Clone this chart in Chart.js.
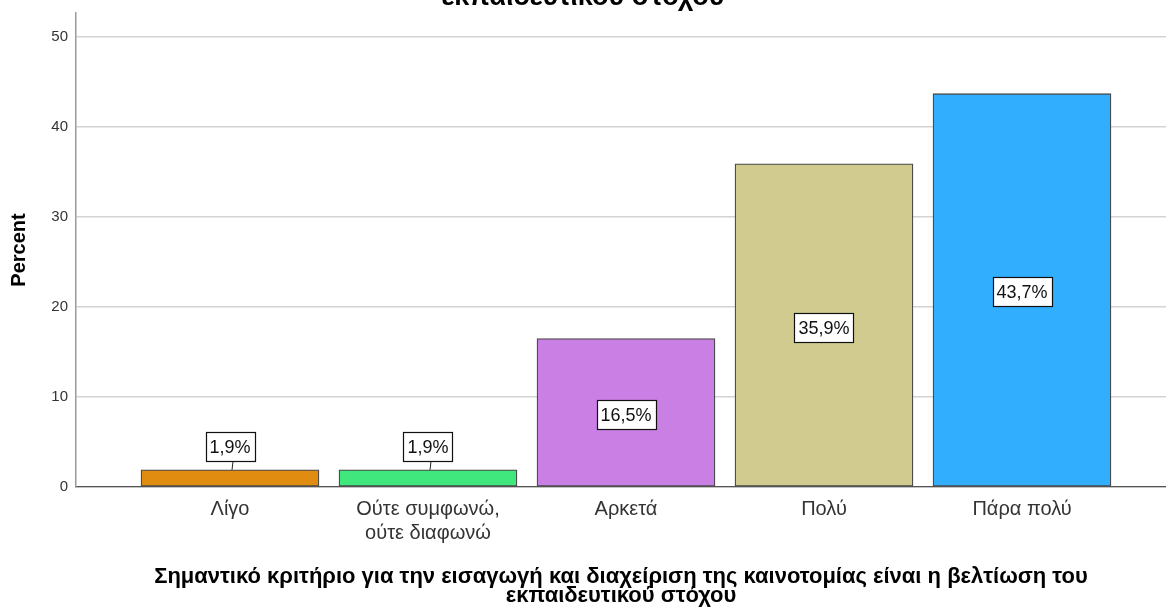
<!DOCTYPE html>
<html lang="el">
<head>
<meta charset="utf-8">
<title>Percent</title>
<script src="https://cdn.jsdelivr.net/npm/chart.js@4.4.1/dist/chart.umd.min.js"></script>
<style>
  html, body { margin: 0; padding: 0; background: #ffffff; }
  #wrap { width: 1166px; height: 610px; position: relative; }
</style>
</head>
<body>
<div id="wrap"><canvas id="chart" width="1166" height="610"></canvas></div>
<script>
// Response categories (x axis tick labels; multi-line where the label wraps)
const categories = [
  ['Λίγο'],
  ['Ούτε συμφωνώ,', 'ούτε διαφωνώ'],
  ['Αρκετά'],
  ['Πολύ'],
  ['Πάρα πολύ']
];
// Percent of respondents per category
const percents = [1.9, 1.9, 16.5, 35.9, 43.7];
// Bar fill colours per category
const barColors = ['#E08C10', '#40E77C', '#C97FE4', '#D1CB8F', '#31AEFE'];
// Y axis tick values
const yTicks = [0, 10, 20, 30, 40, 50];

const titleLines = [
  'Σημαντικό κριτήριο για την εισαγωγή και διαχείριση της καινοτομίας είναι η βελτίωση του',
  'εκπαιδευτικού στόχου'
];
const axisTitleLines = titleLines;

const FONT = '"Liberation Sans", Arial, Helvetica, sans-serif';

// Chart title, centred on the canvas; it sits partly above the visible area
const topTitle = {
  id: 'topTitle',
  afterDraw(chart) {
    const ctx = chart.ctx;
    ctx.save();
    ctx.font = 'bold 27px ' + FONT;
    ctx.fillStyle = '#000';
    ctx.textAlign = 'center';
    ctx.textBaseline = 'alphabetic';
    const cx = chart.width / 2;
    ctx.fillText(titleLines[0], cx, 5 - 26);
    ctx.fillText(titleLines[1], cx, 5);
    ctx.restore();
  }
};

// Boxed percentage labels: centred inside tall bars, above short bars with a leader line
const boxLabels = {
  id: 'boxLabels',
  afterDatasetsDraw(chart) {
    const ctx = chart.ctx;
    const meta = chart.getDatasetMeta(0);
    ctx.save();
    ctx.font = '18px ' + FONT;
    ctx.textAlign = 'center';
    ctx.textBaseline = 'middle';
    meta.data.forEach((bar, i) => {
      const v = percents[i];
      const text = v.toFixed(1).replace('.', ',') + '%';
      const w = Math.round(ctx.measureText(text).width) + 8;
      const h = 29;
      const barH = bar.base - bar.y;
      let cy;
      let leader = false;
      if (barH > h + 10) {
        cy = (bar.y + bar.base) / 2 + 2;
      } else {
        cy = bar.y - 9 - h / 2;
        leader = true;
      }
      const left = Math.round(bar.x - w / 2) + 0.5;
      const top = Math.round(cy - h / 2) + 0.5;
      if (leader) {
        ctx.strokeStyle = '#222';
        ctx.lineWidth = 1;
        ctx.beginPath();
        ctx.moveTo(bar.x + 3, top + h);
        ctx.lineTo(bar.x + 2, bar.y);
        ctx.stroke();
      }
      ctx.fillStyle = '#ffffff';
      ctx.fillRect(left, top, w, h);
      ctx.strokeStyle = '#111';
      ctx.lineWidth = 1.2;
      ctx.strokeRect(left, top, w, h);
      ctx.fillStyle = '#111';
      ctx.fillText(text, bar.x, top + h / 2 + 1);
    });
    ctx.restore();
  }
};

const points = percents.map((p, i) => ({ x: i + 1, y: p }));

new Chart(document.getElementById('chart'), {
  type: 'bar',
  data: {
    datasets: [{
      data: points,
      backgroundColor: barColors,
      borderColor: '#4a4a4a',
      borderWidth: 1.3,
      borderSkipped: false,
      barThickness: 178
    }]
  },
  options: {
    responsive: false,
    animation: false,
    devicePixelRatio: 1,
    layout: { padding: { top: 13, left: 0, right: 0, bottom: 0 } },
    plugins: {
      legend: { display: false },
      tooltip: { enabled: false },
      title: { display: false }
    },
    scales: {
      x: {
        type: 'linear',
        offset: false,
        min: 1 - 154 / 198,
        max: 5 + 144 / 198,
        afterFit(scale) {
          scale.height = 123;
          scale.paddingLeft = 0;
          scale.paddingRight = 0;
        },
        afterBuildTicks(scale) {
          scale.ticks = categories.map((c, i) => ({ value: i + 1 }));
        },
        grid: { display: false, drawTicks: false, offset: false },
        border: { display: true, color: '#555', width: 1.2 },
        ticks: {
          autoSkip: false,
          maxRotation: 0,
          minRotation: 0,
          padding: 10,
          color: '#333',
          font: { family: FONT, size: 20, lineHeight: 1.2 },
          callback: (v) => {
            const c = categories[Math.round(v) - 1];
            return c ? (c.length > 1 ? c : c[0]) : '';
          }
        },
        title: {
          display: true,
          text: axisTitleLines,
          color: '#000',
          font: { family: FONT, size: 22, weight: 'bold', lineHeight: 0.88 },
          padding: { top: 0, bottom: 4 }
        }
      },
      y: {
        min: 0,
        max: 474 / 9,
        afterFit(scale) {
          scale.width = 76;
          scale.paddingTop = 0;
          scale.paddingBottom = 0;
        },
        afterBuildTicks(scale) {
          scale.ticks = yTicks.map(v => ({ value: v }));
        },
        grid: { color: '#d3d3d3', lineWidth: 1.6, drawTicks: false },
        border: { display: true, color: '#9a9a9a', width: 1.5 },
        ticks: {
          padding: 8,
          color: '#333',
          font: { family: FONT, size: 15 }
        },
        title: {
          display: true,
          text: 'Percent',
          color: '#000',
          font: { family: FONT, size: 20, weight: 'bold', lineHeight: 1.2 },
          padding: { top: 7, bottom: 0 }
        }
      }
    }
  },
  plugins: [topTitle, boxLabels]
});
</script>
</body>
</html>
